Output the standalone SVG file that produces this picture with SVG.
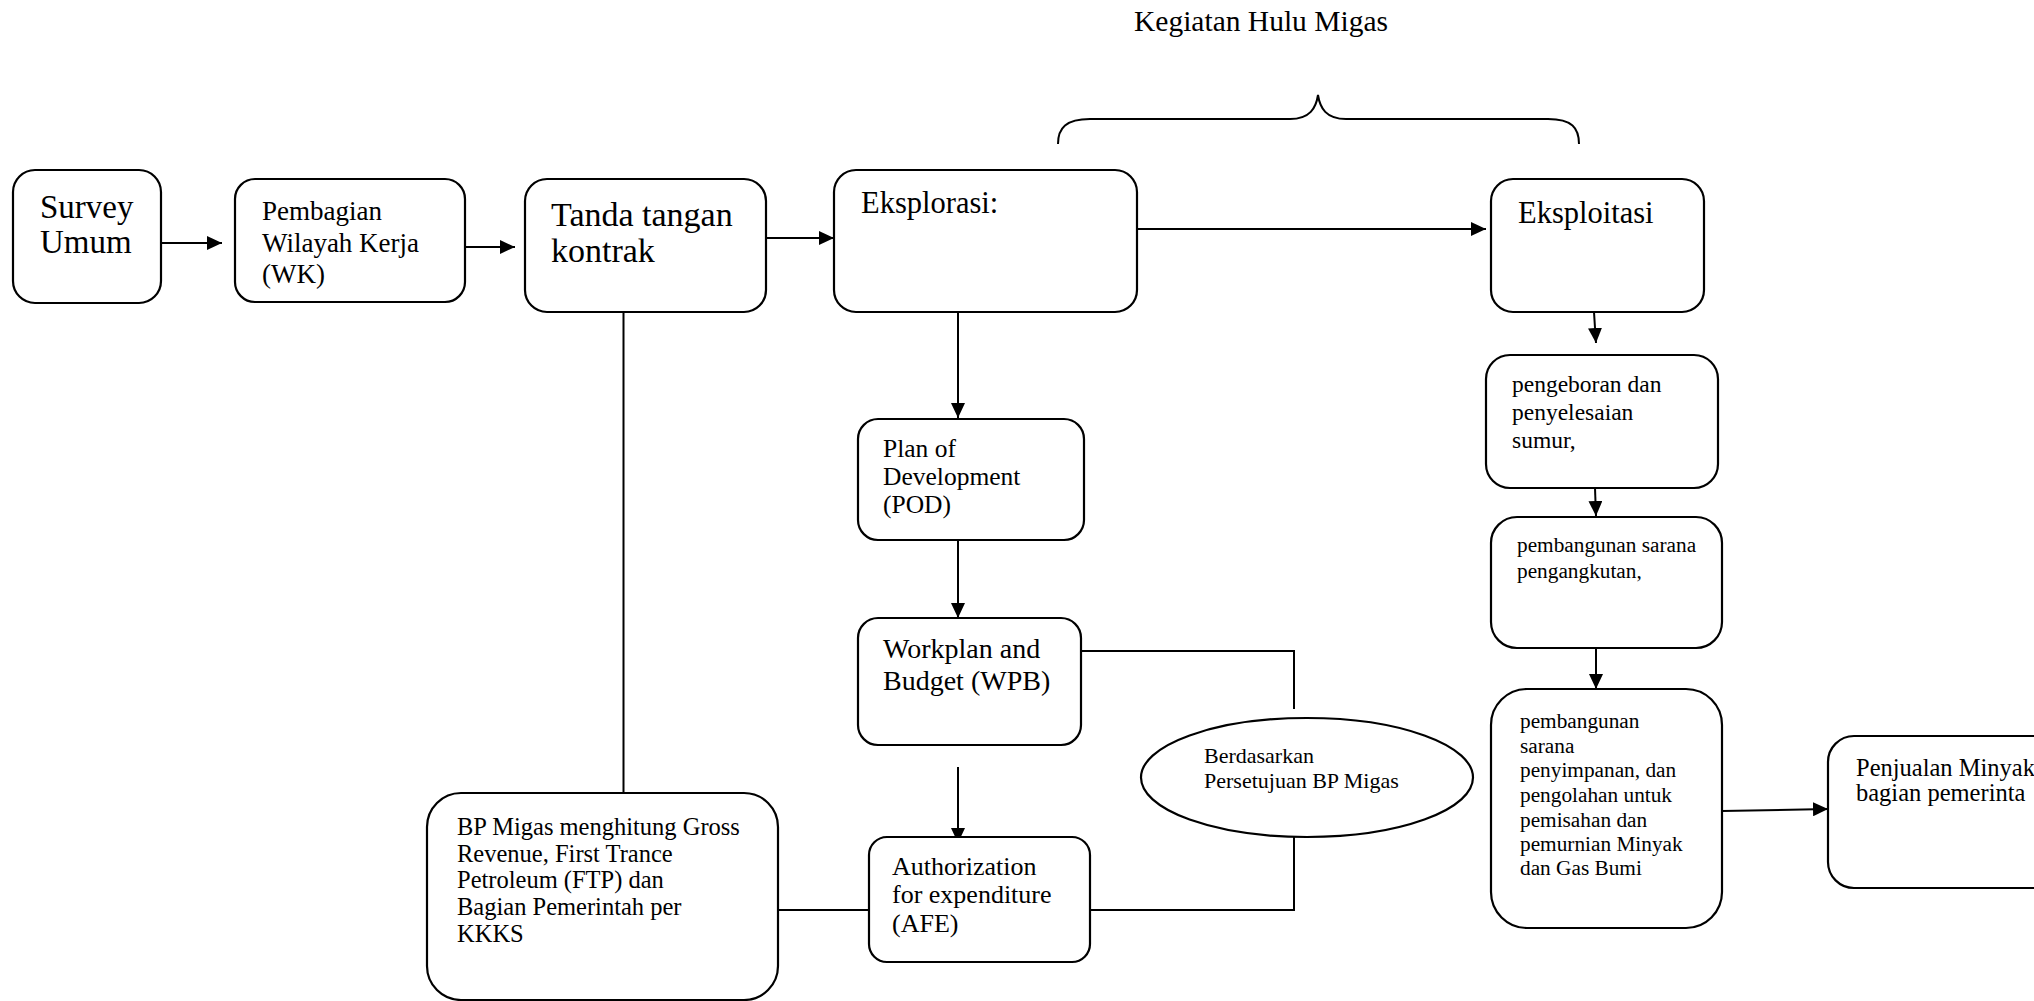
<svg xmlns="http://www.w3.org/2000/svg" width="2034" height="1001" viewBox="0 0 2034 1001">
<defs>
<style>
.box{fill:#fff;stroke:#000;stroke-width:2.2}
.ln{fill:none;stroke:#000;stroke-width:2}
.t{font-family:"Liberation Serif","Times New Roman",serif;fill:#000}
</style>
<marker id="ah" markerUnits="userSpaceOnUse" markerWidth="16" markerHeight="14" refX="15" refY="7" orient="auto">
<path d="M0,0 L15,7 L0,14 z" fill="#000"/>
</marker>
</defs>
<rect width="2034" height="1001" fill="#fff"/>

<g id="title">
<text class="t" x="1261" y="31" font-size="29.5" text-anchor="middle">Kegiatan Hulu Migas</text>
<path class="ln" d="M1058,144 C1058,128 1066,119 1090,119 L1290,119 C1310,119 1316,108 1318,95 C1320,108 1326,119 1346,119 L1548,119 C1572,119 1579,128 1579,144"/>
</g>

<g id="connectors">
<line class="ln" x1="161" y1="243" x2="222" y2="243" marker-end="url(#ah)"/>
<line class="ln" x1="465" y1="247" x2="515" y2="247" marker-end="url(#ah)"/>
<line class="ln" x1="766" y1="238" x2="834" y2="238" marker-end="url(#ah)"/>
<line class="ln" x1="1137" y1="229" x2="1486" y2="229" marker-end="url(#ah)"/>
<line class="ln" x1="623.5" y1="312" x2="623.5" y2="793"/>
<line class="ln" x1="958" y1="312" x2="958" y2="418" marker-end="url(#ah)"/>
<line class="ln" x1="958" y1="540" x2="958" y2="618" marker-end="url(#ah)"/>
<line class="ln" x1="958" y1="767" x2="958" y2="843" marker-end="url(#ah)"/>
<polyline class="ln" points="1081,651 1294,651 1294,709"/>
<polyline class="ln" points="1090,910 1294,910 1294,837"/>
<line class="ln" x1="777" y1="910" x2="869" y2="910"/>
<line class="ln" x1="1594" y1="312" x2="1596" y2="343" marker-end="url(#ah)"/>
<line class="ln" x1="1595" y1="488" x2="1596" y2="516" marker-end="url(#ah)"/>
<line class="ln" x1="1596" y1="648" x2="1596" y2="689" marker-end="url(#ah)"/>
<line class="ln" x1="1722" y1="811" x2="1828" y2="809" marker-end="url(#ah)"/>
</g>

<g id="survey">
<rect class="box" x="13" y="170" width="148" height="133" rx="22"/>
<text class="t" x="40" y="218" font-size="33">Survey</text>
<text class="t" x="40" y="253" font-size="33">Umum</text>
</g>

<g id="pembagian">
<rect class="box" x="235" y="179" width="230" height="123" rx="20"/>
<text class="t" font-size="27"><tspan x="262" y="220">Pembagian</tspan><tspan x="262" y="252">Wilayah Kerja</tspan><tspan x="262" y="283">(WK)</tspan></text>
</g>

<g id="tanda">
<rect class="box" x="525" y="179" width="241" height="133" rx="22"/>
<text class="t" font-size="34"><tspan x="551" y="226">Tanda tangan</tspan><tspan x="551" y="262">kontrak</tspan></text>
</g>

<g id="eksplorasi">
<rect class="box" x="834" y="170" width="303" height="142" rx="22"/>
<text class="t" x="861" y="213" font-size="30.5">Eksplorasi:</text>
</g>

<g id="eksploitasi">
<rect class="box" x="1491" y="179" width="213" height="133" rx="22"/>
<text class="t" x="1518" y="223" font-size="30.5">Eksploitasi</text>
</g>

<g id="pod">
<rect class="box" x="858" y="419" width="226" height="121" rx="20"/>
<text class="t" font-size="25.5"><tspan x="883" y="457">Plan of</tspan><tspan x="883" y="485">Development</tspan><tspan x="883" y="513">(POD)</tspan></text>
</g>

<g id="wpb">
<rect class="box" x="858" y="618" width="223" height="127" rx="20"/>
<text class="t" font-size="28"><tspan x="883" y="658">Workplan and</tspan><tspan x="883" y="690">Budget (WPB)</tspan></text>
</g>

<g id="afe">
<rect class="box" x="869" y="837" width="221" height="125" rx="18"/>
<text class="t" font-size="26"><tspan x="892" y="875">Authorization</tspan><tspan x="892" y="903">for expenditure</tspan><tspan x="892" y="932">(AFE)</tspan></text>
</g>

<g id="bpmigas">
<rect class="box" x="427" y="793" width="351" height="207" rx="34"/>
<text class="t" font-size="24.5"><tspan x="457" y="835">BP Migas menghitung Gross</tspan><tspan x="457" y="862">Revenue, First Trance</tspan><tspan x="457" y="888">Petroleum (FTP) dan</tspan><tspan x="457" y="915">Bagian Pemerintah per</tspan><tspan x="457" y="942">KKKS</tspan></text>
</g>

<g id="persetujuan">
<ellipse class="box" cx="1307" cy="777.5" rx="166" ry="59.5"/>
<text class="t" font-size="22"><tspan x="1204" y="763">Berdasarkan</tspan><tspan x="1204" y="788">Persetujuan BP Migas</tspan></text>
</g>

<g id="pengeboran">
<rect class="box" x="1486" y="355" width="232" height="133" rx="24"/>
<text class="t" font-size="23.5"><tspan x="1512" y="392">pengeboran dan</tspan><tspan x="1512" y="420">penyelesaian</tspan><tspan x="1512" y="448">sumur,</tspan></text>
</g>

<g id="pengangkutan">
<rect class="box" x="1491" y="517" width="231" height="131" rx="26"/>
<text class="t" font-size="21.3"><tspan x="1517" y="552">pembangunan sarana</tspan><tspan x="1517" y="578">pengangkutan,</tspan></text>
</g>

<g id="penyimpanan">
<rect class="box" x="1491" y="689" width="231" height="239" rx="36"/>
<text class="t" font-size="21.3"><tspan x="1520" y="728">pembangunan</tspan><tspan x="1520" y="753">sarana</tspan><tspan x="1520" y="777">penyimpanan, dan</tspan><tspan x="1520" y="802">pengolahan untuk</tspan><tspan x="1520" y="827">pemisahan dan</tspan><tspan x="1520" y="851">pemurnian Minyak</tspan><tspan x="1520" y="875">dan Gas Bumi</tspan></text>
</g>

<g id="penjualan">
<rect class="box" x="1828" y="736" width="260" height="152" rx="26"/>
<text class="t" font-size="24.5"><tspan x="1856" y="776">Penjualan Minyak</tspan><tspan x="1856" y="801">bagian pemerinta</tspan></text>
</g>
</svg>
